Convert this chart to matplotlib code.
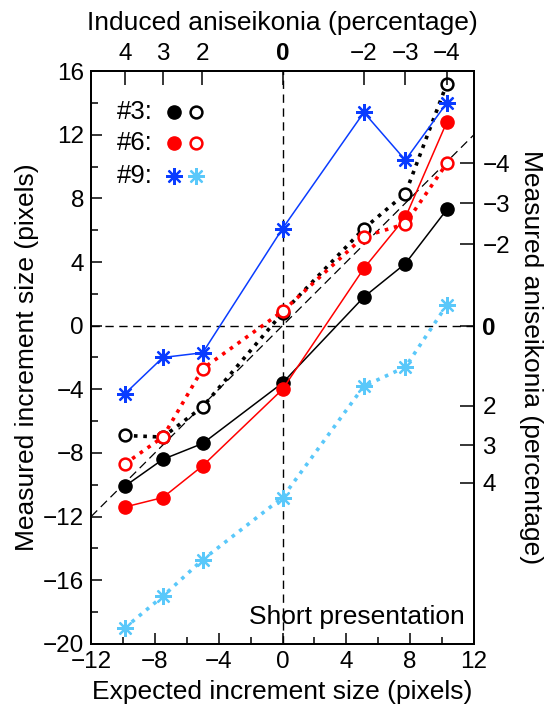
import matplotlib
matplotlib.use("Agg")
import matplotlib.pyplot as plt
from matplotlib.ticker import MultipleLocator

plt.rcParams["font.family"] = ["Liberation Sans", "DejaVu Sans"]
plt.rcParams["font.size"] = 17

# expected increment size (pixels) for each induced aniseikonia step
expected = [-9.9, -7.5, -5.0, 0.0, 5.1, 7.7, 10.3]

# measured increment size (pixels)
s3_solid = [-10.1, -8.4, -7.4, -3.6, 1.8, 3.9, 7.3]
s3_dotted = [-6.9, -7.0, -5.1, 0.8, 6.1, 8.3, 15.2]
s6_solid = [-11.4, -10.8, -8.8, -4.0, 3.6, 6.8, 12.8]
s6_dotted = [-8.7, -7.0, -2.7, 0.9, 5.6, 6.4, 10.2]
s9_solid = [-4.3, -2.0, -1.7, 6.1, 13.4, 10.4, 14.0]
s9_dotted = [-19.0, -17.0, -14.7, -10.8, -3.8, -2.6, 1.3]

# induced aniseikonia labels (top axis) and measured aniseikonia (right axis)
top_pos = [-9.87, -7.5, -5.04, 0.0, 5.1, 7.7, 10.3]
top_labels = ["4", "3", "2", "0", "\u22122", "\u22123", "\u22124"]
right_pos = [10.2, 7.7, 5.1, 0.0, -5.04, -7.5, -9.86]
right_labels = ["\u22124", "\u22123", "\u22122", "0", "2", "3", "4"]

BLACK = "black"
RED = "#ff0000"
BLUE = "#0a3cff"
LBLUE = "#5ac8fa"

fig = plt.figure(figsize=(5.56, 7.13), dpi=100)
ax = fig.add_axes([0.1637, 0.0968, 0.6888, 0.8036])

xlim = (-12, 12)
ylim = (-20, 16)

# reference lines
ax.axhline(0, color="black", lw=1.0, ls=(0, (6, 4)), zorder=1)
ax.axvline(0, color="black", lw=1.0, ls=(0, (6, 4)), zorder=1)
ax.plot(xlim, xlim, color="black", lw=0.9, ls=(0, (7, 4)), zorder=1)

ms = 9.5
dot = (0, (1, 1.6))

ax.plot(expected, s3_solid, color=BLACK, lw=1.1, marker="o", ms=ms, zorder=3)
ax.plot(expected, s3_dotted, color=BLACK, lw=2.6, ls=dot, marker="o", ms=ms - 1,
        mfc="white", mec=BLACK, mew=1.8, zorder=3)
ax.plot(expected, s6_solid, color=RED, lw=1.1, marker="o", ms=ms, zorder=4)
ax.plot(expected, s6_dotted, color=RED, lw=2.6, ls=dot, marker="o", ms=ms - 1,
        mfc="white", mec=RED, mew=1.8, zorder=4)
ax.plot(expected, s9_solid, color=BLUE, lw=1.1, marker=(8, 2, 0), ms=12, mew=1.6, zorder=5)
ax.plot(expected, s9_dotted, color=LBLUE, lw=2.6, ls=dot, marker=(8, 2, 0), ms=12,
        mew=1.6, mec=LBLUE, zorder=5)

ax.set_xlim(*xlim)
ax.set_ylim(*ylim)
ax.xaxis.set_major_locator(MultipleLocator(4))
ax.xaxis.set_minor_locator(MultipleLocator(2))
ax.yaxis.set_major_locator(MultipleLocator(4))
ax.yaxis.set_minor_locator(MultipleLocator(2))
ax.set_xticklabels([f"{int(v)}".replace("-", "\u2212") for v in ax.get_xticks()])
ax.set_yticklabels([f"{int(v)}".replace("-", "\u2212") for v in ax.get_yticks()])
ax.tick_params(which="both", direction="in", width=1.1, top=False, right=False)
ax.tick_params(which="major", length=8, pad=5, labelsize=17.5)
ax.tick_params(which="minor", length=5)
for sp in ax.spines.values():
    sp.set_linewidth(1.2)

ax.set_xlabel("Expected increment size (pixels)", labelpad=5, fontsize=19)
ax.set_ylabel("Measured increment size (pixels)", labelpad=3, fontsize=19)

# top axis: induced aniseikonia
axt = ax.twiny()
axt.set_xlim(*xlim)
axt.set_xticks(top_pos)
axt.set_xticklabels(top_labels)
axt.tick_params(direction="in", length=10, width=1.1, pad=4, labelsize=17.5)
axt.set_xlabel("Induced aniseikonia (percentage)", labelpad=9, fontsize=19)
axt.get_xticklabels()[3].set_fontweight("bold")

# right axis: measured aniseikonia
axr = ax.twinx()
axr.set_ylim(*ylim)
axr.set_yticks(right_pos)
axr.set_yticklabels(right_labels)
axr.tick_params(direction="in", length=10, width=1.1, pad=6, labelsize=17.5)
axr.set_ylabel("Measured aniseikonia (percentage)", rotation=270, labelpad=24, fontsize=19)
axr.get_yticklabels()[3].set_fontweight("bold")
for a in (axt, axr):
    for sp in a.spines.values():
        sp.set_linewidth(1.2)

# legend drawn by hand
rows = [
    ("#3:", dict(color=BLACK, marker="o", ms=ms), dict(marker="o", ms=ms - 1, mfc="white", mec=BLACK, mew=1.8)),
    ("#6:", dict(color=RED, marker="o", ms=ms), dict(marker="o", ms=ms - 1, mfc="white", mec=RED, mew=1.8)),
    ("#9:", dict(color=BLUE, marker=(8, 2, 0), ms=12, mew=1.6), dict(color=LBLUE, marker=(8, 2, 0), ms=12, mew=1.6, mec=LBLUE)),
]
row_y = [0.929, 0.874, 0.817]
for (lab, k1, k2), yy in zip(rows, row_y):
    ax.text(0.068, yy, lab, transform=ax.transAxes, va="center", ha="left", fontsize=18.5)
    ax.plot([0.217], [yy], transform=ax.transAxes, ls="none", clip_on=False, **k1)
    ax.plot([0.274], [yy], transform=ax.transAxes, ls="none", clip_on=False, **k2)

ax.text(0.975, 0.047, "Short presentation", transform=ax.transAxes, ha="right", va="center",
        fontsize=19)

fig.savefig("out.png", dpi=100)
